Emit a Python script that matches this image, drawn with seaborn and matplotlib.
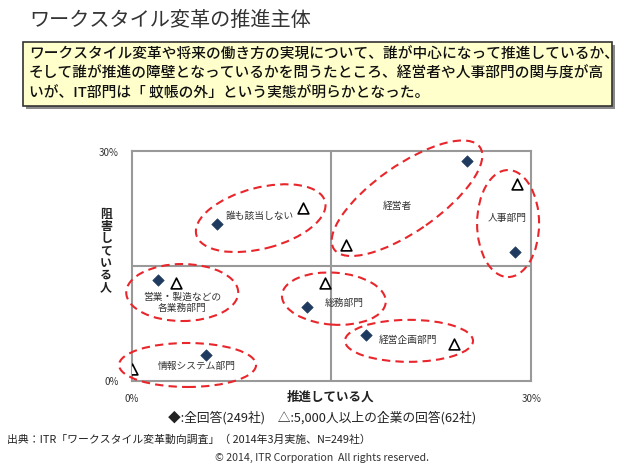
import matplotlib
matplotlib.use("Agg")
import matplotlib.pyplot as plt
import seaborn as sns
import pandas as pd
from matplotlib.patches import Ellipse, Rectangle
from matplotlib.transforms import ScaledTranslation

sns.set_theme(style="white")
plt.rcParams['font.family'] = ['Noto Sans CJK JP', 'DejaVu Sans']

# ---- data (percent) ----
categories = ["誰も該当しない", "経営者", "人事部門", "営業・製造などの\n各業務部門",
              "総務部門", "経営企画部門", "情報システム部門"]
all_x = [6.4, 25.2, 28.8, 2.0, 13.2, 17.6, 5.6]      # 推進している人 (全回答)
all_y = [20.5, 28.6, 16.8, 13.2, 9.6, 6.0, 3.4]       # 阻害している人 (全回答)
large_x = [12.9, 16.1, 29.0, 3.3, 14.5, 24.2, 0.0]    # 5,000人以上
large_y = [22.5, 17.7, 25.7, 12.7, 12.8, 4.8, 1.5]

# label positions (annotation placement)
label_x = [9.6, 20.0, 28.2, 3.8, 16.0, 20.8, 4.9]
label_y = [21.5, 22.8, 21.2, 10.2, 10.1, 5.3, 1.9]
# ellipse annotations: centre (data), width/height (inches), angle (deg)
ell_cx = [9.7, 20.7, 28.3, 3.8, 15.2, 20.85, 4.2]
ell_cy = [21.2, 23.8, 20.5, 11.5, 10.7, 5.2, 2.05]
ell_w = [1.33, 1.78, 0.62, 1.12, 1.04, 1.28, 1.37]
ell_h = [0.61, 0.66, 1.07, 0.57, 0.52, 0.42, 0.44]
ell_a = [14.5, 35, 0, 0, -4, 0, 0]

df_all = pd.DataFrame({"x": all_x, "y": all_y, "cat": categories})
df_large = pd.DataFrame({"x": large_x, "y": large_y, "cat": categories})

fig = plt.figure(figsize=(6.4, 4.7), dpi=100)
fig.patch.set_facecolor("white")

# title
fig.text(29/640, 1-20/470, "ワークスタイル変革の推進主体", fontsize=14.5,
         color="#333333", ha="left", va="center")

# yellow summary box with shadow
bx0, bx1, by0, by1 = 23, 612, 42, 106
fig.patches.append(Rectangle(((bx0+3)/640, 1-(by1+3)/470), (bx1-bx0)/640, (by1-by0)/470,
                             transform=fig.transFigure, facecolor="#8a8a8a", edgecolor="none", zorder=0))
fig.patches.append(Rectangle((bx0/640, 1-by1/470), (bx1-bx0)/640, (by1-by0)/470,
                             transform=fig.transFigure, facecolor="#FFFFCC", edgecolor="#333333",
                             linewidth=1.2, zorder=1))
box_lines = ["ワークスタイル変革や将来の働き方の実現について、誰が中心になって推進しているか、",
             "そして誰が推進の障壁となっているかを問うたところ、経営者や人事部門の関与度が高",
             "いが、IT部門は「 蚊帳の外」という実態が明らかとなった。"]
for i, line in enumerate(box_lines):
    fig.text(29/640, 1-(55+19*i)/470, line, fontsize=10.6, color="#111111",
             ha="left", va="center", fontweight="medium", zorder=2)

ax = fig.add_axes([131.7/640, 1-380.7/470, 399/640, 230/470])
sns.scatterplot(data=df_all, x="x", y="y", ax=ax, marker="D", s=34,
                color="#1F3A5F", edgecolor="#1F3A5F", zorder=4, legend=False)
sns.scatterplot(data=df_large, x="x", y="y", ax=ax, marker="^", s=60,
                facecolor="white", edgecolor="black", linewidth=1.2, zorder=4, legend=False)
ax.set_xlim(0, 30)
ax.set_ylim(0, 30)
ax.set_xticks([])
ax.set_yticks([])
ax.set_xlabel("")
ax.set_ylabel("")
for sp in ax.spines.values():
    sp.set_color("#999999")
    sp.set_linewidth(1.5)
ax.axvline(15, color="#999999", lw=1.5, zorder=1)
ax.axhline(15, color="#999999", lw=1.5, zorder=1)

for cx, cy, w, h, a in zip(ell_cx, ell_cy, ell_w, ell_h, ell_a):
    tr = fig.dpi_scale_trans + ScaledTranslation(cx, cy, ax.transData)
    e = Ellipse((0, 0), w, h, angle=a, transform=tr, fill=False,
                edgecolor="#E8262B", linewidth=1.5, linestyle=(0, (4, 2.5)),
                clip_on=False, zorder=3)
    ax.add_artist(e)

for t, lx, ly in zip(categories, label_x, label_y):
    ax.text(lx, ly, t, fontsize=7, color="#333333", ha="center", va="center",
            linespacing=1.2, zorder=5)

# axis ticks / labels as text
fig.text(109/640, 1-153/470, "30%", fontsize=7, color="#333333", ha="center", va="center")
fig.text(112/640, 1-382/470, "0%", fontsize=7, color="#333333", ha="center", va="center")
fig.text(132/640, 1-399/470, "0%", fontsize=7, color="#333333", ha="center", va="center")
fig.text(532/640, 1-399/470, "30%", fontsize=7, color="#333333", ha="center", va="center")
fig.text(330/640, 1-397/470, "推進している人", fontsize=9, fontweight="bold",
         color="#222222", ha="center", va="center")
fig.text(106/640, 1-251/470, "\n".join("阻害している人"), fontsize=8.6, fontweight="bold",
         color="#222222", ha="center", va="center", linespacing=0.92)

fig.text(322/640, 1-418/470, "◆:全回答(249社)　△:5,000人以上の企業の回答(62社)",
         fontsize=9.2, color="#222222", ha="center", va="center")
fig.text(7/640, 1-440/470, "出典：ITR「ワークスタイル変革動向調査」（ 2014年3月実施、N=249社）",
         fontsize=7.8, color="#222222", ha="left", va="center")
fig.text(322/640, 1-458/470, "© 2014, ITR Corporation  All rights reserved.",
         fontsize=7.6, color="#333333", ha="center", va="center")

fig.savefig("out.png", dpi=100, facecolor="white")
